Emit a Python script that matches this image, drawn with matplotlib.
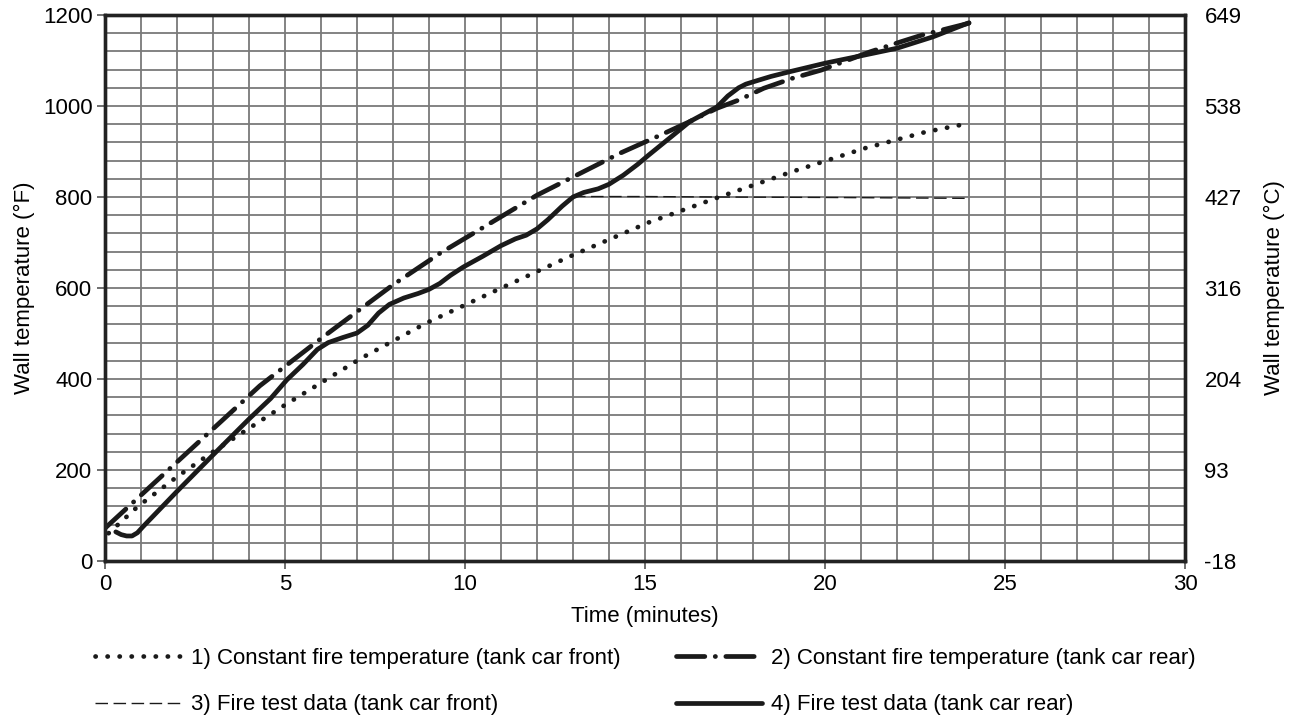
import numpy as np
import matplotlib.pyplot as plt

plt.rcParams['font.family'] = ['Liberation Sans', 'DejaVu Sans']

# 1) constant fire temperature, tank car front (dotted)
t_front_const = [0.1, 0.9, 2.0, 3.0, 5.0, 7.1, 8.9, 10.9, 12.9, 15.1, 17.1, 19.1, 21.1, 22.8, 24.0]
T_front_const = [61, 119, 185, 240, 343, 445, 522, 596, 669, 744, 801, 856, 907, 943, 962]

# 2) constant fire temperature, tank car rear (dash-dot)
t_rear_const = [0.0, 4.3, 6.0, 8.0, 9.3, 12.0, 14.3, 15.4, 16.25, 17.0, 17.6, 18.3, 19.1, 19.9, 21.25, 22.1, 22.7, 24.0]
T_rear_const = [72, 385, 489, 607, 676, 804, 896, 935, 966, 995, 1013, 1039, 1061, 1079, 1119, 1141, 1156, 1182]

# 3) fire test data, tank car front (thin dashed)
t_front_test = [13.0, 15.0, 17.0, 20.0, 22.0, 24.0]
T_front_test = [801, 801, 800, 799, 798, 797]

# 4) fire test data, tank car rear (solid)
t_rear_test = [0.3, 0.45, 0.6, 0.75, 0.9, 1.05, 2.0, 3.0, 4.0, 4.6, 5.05, 5.5, 5.9, 6.2, 6.6, 7.0, 7.3, 7.6,
               7.9, 8.3, 8.7, 9.0, 9.3, 9.6, 9.95, 10.5, 11.0, 11.4, 11.7, 12.0, 12.3, 12.7, 13.0, 13.3, 13.7,
               14.0, 14.4, 14.8, 15.1, 16.25, 17.0, 17.3, 17.6, 17.8, 18.0, 18.5, 19.0, 20.0, 21.1, 22.0,
               23.0, 24.0]
T_rear_test = [64, 58, 55, 55, 62, 75, 153, 233, 312, 357, 398, 432, 465, 480, 491, 501, 518, 545,
               564, 578, 588, 597, 610, 628, 646, 670, 693, 708, 716, 730, 750, 780, 800, 810, 818,
               828, 848, 872, 892, 966, 998, 1022, 1040, 1048, 1053, 1065, 1075, 1094, 1112, 1127,
               1152, 1183]

labels = ['1) Constant fire temperature (tank car front)',
          '2) Constant fire temperature (tank car rear)',
          '3) Fire test data (tank car front)',
          '4) Fire test data (tank car rear)']

fig = plt.figure(figsize=(12.94, 7.21), dpi=100)
ax = fig.add_axes([105 / 1294, 1 - 561 / 721, 1080 / 1294, 546 / 721])

ax.set_xlim(0, 30)
ax.set_ylim(0, 1200)
ax.set_xticks(np.arange(0, 31, 1), minor=True)
ax.set_yticks(np.arange(0, 1201, 40), minor=True)
ax.set_xticks(np.arange(0, 31, 5))
ax.set_yticks(np.arange(0, 1201, 200))
ax.grid(which='both', color='#7a7a7a', linewidth=1.3)
ax.tick_params(which='minor', length=0)
ax.tick_params(which='major', length=6, width=1.2, labelsize=16, color='#555555', pad=3)
for s in ax.spines.values():
    s.set_linewidth(2.4)
    s.set_color('#222222')

c = '#1a1a1a'
l1, = ax.plot(t_front_const, T_front_const, color=c, lw=3.4, linestyle=(0, (0.05, 2.5)),
              dash_capstyle='round', solid_capstyle='round')
l2, = ax.plot(t_rear_const, T_rear_const, color=c, lw=3.4, linestyle=(0, (6, 2.2, 0.05, 2.2)),
              dash_capstyle='round')
l3, = ax.plot(t_front_test, T_front_test, color=c, lw=1.0, linestyle=(0, (9, 4)))
l4, = ax.plot(t_rear_test, T_rear_test, color=c, lw=3.4, solid_capstyle='round',
              solid_joinstyle='round')

ax.set_xlabel('Time (minutes)', fontsize=16, labelpad=8)
ax.set_ylabel('Wall temperature (°F)', fontsize=16, labelpad=6)

ax2 = ax.twinx()
ax2.set_ylim(ax.get_ylim())
ticksF = np.arange(0, 1201, 200)
ax2.set_yticks(ticksF)
ax2.set_yticklabels([str(int(round((f - 32) * 5 / 9))) for f in ticksF])
ax2.tick_params(length=0, labelsize=16, pad=14)
ax2.set_ylabel('Wall temperature (°C)', fontsize=16, labelpad=16)
for s in ax2.spines.values():
    s.set_linewidth(2.4)
    s.set_color('#222222')

handles = [l1, l3, l2, l4]
leg_labels = [labels[0], labels[2], labels[1], labels[3]]
fig.legend(handles, leg_labels, loc='lower left', bbox_to_anchor=(0.058, -0.02), ncol=2,
           frameon=False, fontsize=16, handlelength=3.9, columnspacing=2.5, labelspacing=1.15,
           handletextpad=0.4)

fig.savefig('out.png', dpi=100)
